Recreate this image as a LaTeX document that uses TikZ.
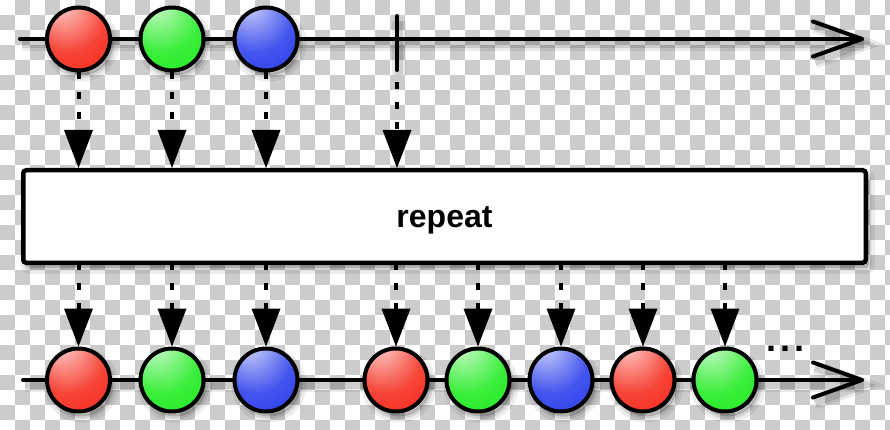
\documentclass[tikz,border=0pt]{standalone}
\usepackage{fontspec}
\setmainfont{Liberation Sans}
\usetikzlibrary{arrows.meta,calc}
\definecolor{checkgray}{RGB}{204,204,204}
\definecolor{ballR}{RGB}{245,35,20}
\definecolor{ballG}{RGB}{25,235,25}
\definecolor{ballB}{RGB}{35,55,235}
\pgfdeclareradialshading{redball}{\pgfpoint{-14bp}{30bp}}{color(0bp)=(white); color(7bp)=(ballR!35!white); color(30bp)=(ballR!85!white); color(54bp)=(ballR); color(86bp)=(ballR!60!black)}
\pgfdeclareradialshading{greenball}{\pgfpoint{-14bp}{30bp}}{color(0bp)=(white); color(7bp)=(ballG!35!white); color(30bp)=(ballG!85!white); color(54bp)=(ballG); color(86bp)=(ballG!60!black)}
\pgfdeclareradialshading{blueball}{\pgfpoint{-14bp}{30bp}}{color(0bp)=(white); color(7bp)=(ballB!35!white); color(30bp)=(ballB!85!white); color(54bp)=(ballB); color(86bp)=(ballB!60!black)}
\begin{document}
\begin{tikzpicture}[x=1pt,y=-1pt,
  lshadow/.style={
    preaction={draw=black,opacity=0.08,line width=14pt,transform canvas={xshift=2pt,yshift=-5pt}},
    preaction={draw=black,opacity=0.12,line width=8pt,transform canvas={xshift=2pt,yshift=-5pt}}},
  nshadow/.style={
    preaction={fill=black,draw=black,opacity=0.07,line width=12pt,transform canvas={xshift=3pt,yshift=-5pt}},
    preaction={fill=black,draw=black,opacity=0.10,line width=5pt,transform canvas={xshift=3pt,yshift=-5pt}}},
  mainline/.style={draw=black,line width=4pt,line cap=round,line join=round},
  ball/.style={circle,draw=black,line width=4pt,minimum size=63pt,inner sep=0pt,nshadow},
  opbox/.style={draw=black,fill=white,line width=4.5pt,rounded corners=3pt,
    minimum width=842.5pt,minimum height=92.5pt,inner sep=0pt,nshadow,
    font=\fontsize{32}{32}\selectfont\bfseries,text height=24pt,text depth=3pt},
  conn/.style={draw=black,line width=4pt,dash pattern=on 7pt off 13pt,
    -{Triangle[length=38pt,width=29pt,line width=0pt]}},
  conntick/.style={conn,dash phase=8pt},
  connbot/.style={conn,dash phase=2pt},
  dotsstyle/.style={inner sep=0pt,font=\fontsize{36}{36}\selectfont\bfseries}
]
\useasboundingbox (0,0) rectangle (890,430);
\clip (0,0) rectangle (890,430);
% transparency checkerboard
\fill[white] (0,0) rectangle (890,430);
\foreach \j in {0,...,28}{
  \foreach \i in {0,...,29}{
    \fill[checkgray] ({(2*\i+1-mod(\j,2))*15},{\j*15}) rectangle +(15,15);
  }
}
% coordinates
\coordinate (tstart) at (20,39);
\coordinate (tend) at (862,39);
\coordinate (bstart) at (23,380);
\coordinate (bend) at (862,380);
\coordinate (tickTop) at (397,16);
\coordinate (tickBot) at (397,70);
% time lines
\draw[mainline,lshadow] (tstart) -- (tend);
\draw[mainline,lshadow] ($(tend)+(-49,-17.5)$) -- (tend) -- ($(tend)+(-49,17.5)$);
\draw[mainline,lshadow] (tickTop) -- (tickBot);
\draw[mainline,lshadow] (bstart) -- (bend);
\draw[mainline,lshadow] ($(bend)+(-49,-17.5)$) -- (bend) -- ($(bend)+(-49,17.5)$);
% operator box
\node[opbox] (op) at (444.5,216.5) {repeat};
% top balls
\node[ball,shading=redball] (t1) at (78.5,39) {};
\node[ball,shading=greenball] (t2) at (172,39) {};
\node[ball,shading=blueball] (t3) at (266,39) {};
% bottom balls
\node[ball,shading=redball] (b1) at (78.5,380) {};
\node[ball,shading=greenball] (b2) at (172,380) {};
\node[ball,shading=blueball] (b3) at (266,380) {};
\node[ball,shading=redball] (b4) at (396,380) {};
\node[ball,shading=greenball] (b5) at (478,380) {};
\node[ball,shading=blueball] (b6) at (561,380) {};
\node[ball,shading=redball] (b7) at (643,380) {};
\node[ball,shading=greenball] (b8) at (725,380) {};
% connectors in
\foreach \n in {1,2,3}{
  \draw[conn] (t\n.south) -- (t\n.south |- op.north);
}
\draw[conntick] (tickBot) -- (tickBot |- op.north);
% connectors out
\foreach \n in {1,...,8}{
  \draw[connbot] (b\n.north |- op.south) -- (b\n.north);
}
% ellipsis
\node[dotsstyle] (more) at (785,349) {.\kern4pt.\kern4pt.};
\end{tikzpicture}
\end{document}
